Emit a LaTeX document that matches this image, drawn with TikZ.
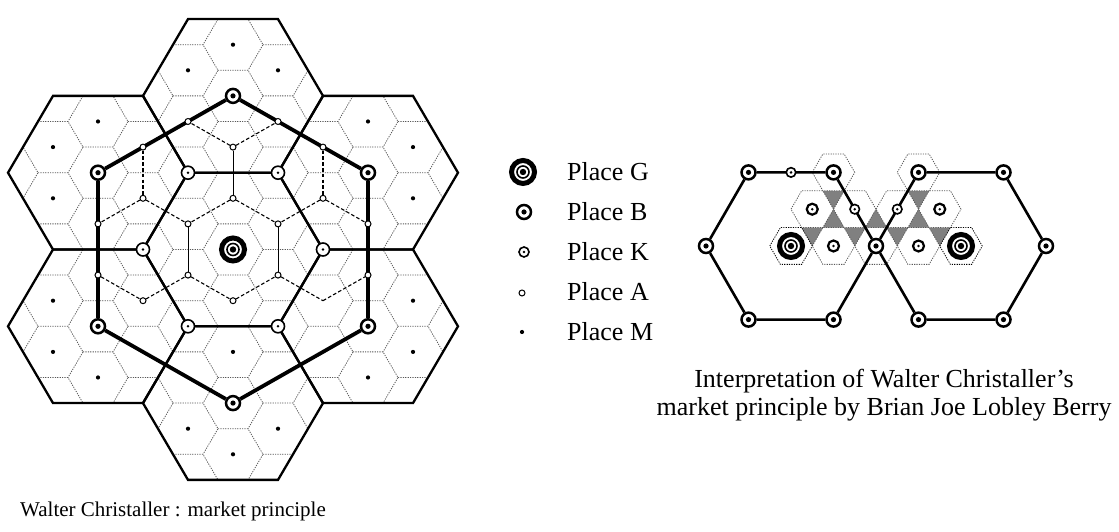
\documentclass[tikz,border=0pt]{standalone}
\usepackage{fontspec}
\setmainfont{Liberation Serif}
\usetikzlibrary{backgrounds}

\begin{document}
\begin{tikzpicture}[x = 1pt, y = 1pt,
        placeG/.style = {circle, draw, fill = white, line width = 5pt, minimum size = 23pt, inner sep = 0pt,
            path picture = {\draw [black, line width = 1.6pt] (path picture bounding box.center) circle (6pt);
                \fill [black] (path picture bounding box.center) circle (3.2pt);}},
        placeB/.style = {circle, draw, fill = white, line width = 2.5pt, minimum size = 14pt, inner sep = 0pt,
            path picture = {\fill [black] (path picture bounding box.center) circle (2.6pt);}},
        placeK/.style = {circle, draw, fill = white, line width = 1.6pt, minimum size = 9.5pt, inner sep = 0pt,
            path picture = {\fill [black] (path picture bounding box.center) circle (1.4pt);}},
        placeA/.style = {circle, draw, fill = white, line width = 1pt, minimum size = 6pt, inner sep = 0pt},
        placeM/.style = {circle, fill, minimum size = 4.2pt, inner sep = 0pt},
        hexline/.style = {line width = 2.3pt},
        trunk/.style = {line width = 3.8pt},
        kline/.style = {line width = 1.1pt, dash pattern = on 3.6pt off 2.2pt},
        aline/.style = {line width = 0.7pt},
        fine/.style = {black!65, line width = 0.8pt, dash pattern = on 1.2pt off 1.2pt},
        grayzone/.style = {fill = black!50},
        keytext/.style = {anchor = west, inner sep = 0pt, font = \fontsize{26pt}{30pt}\selectfont},
        captext/.style = {inner sep = 0pt, font = \fontsize{26pt}{30pt}\selectfont}]
    \useasboundingbox (0, 0) rectangle (1119, 532);

    \begin{scope}[shift = {(233, 282.5)}, x = {(45pt, 0pt)}, y = {(0pt, -25.6pt)}]
        \node [placeG] (G) at (0, 0) {};
        \foreach \i/\j [count = \n] in {0/-6, 3/-3, 3/3, 0/6, -3/3, -3/-3}
            \node [placeB] (B\n) at (\i, \j) {};
        \foreach \i/\j [count = \n] in {1/-3, 2/0, 1/3, -1/3, -2/0, -1/-3}
            \node [placeK, minimum size = 13pt] (K\n) at (\i, \j) {};
        \foreach \i/\j [count = \n] in {0/-4, -1/-5, 1/-5, -2/-4, 2/-4, -2/-2, 2/-2, 0/-2, -1/-1, 1/-1,
                -3/-1, 3/-1, -3/1, 3/1, -1/1, 1/1, 0/2, -2/2}
            \node [placeA] (A\n) at (\i, \j) {};
        \coordinate (A19) at (2, 2);
        \foreach \i/\j [count = \n] in {0/-8, -1/-7, 1/-7, -3/-5, 3/-5, -4/-4, -4/-2, 4/-4, 4/-2, -4/2,
                -4/4, 4/2, 4/4, -3/5, 3/5, 0/4, -1/7, 1/7, 0/8}
            \node [placeM] (M\n) at (\i, \j) {};

        \begin{scope}[on background layer]
            \begin{scope}
                \clip (-1, -9) -- (1, -9) -- (2, -6) -- (4, -6) -- (5, -3) -- (4, 0) -- (5, 3) -- (4, 6) -- (2, 6)
                    -- (1, 9) -- (-1, 9) -- (-2, 6) -- (-4, 6) -- (-5, 3) -- (-4, 0) -- (-5, -3) -- (-4, -6) -- (-2, -6) -- cycle;
                \foreach \i in {-6, -4, ..., 6}
                    \foreach \j in {-10, -8, ..., 10}
                        \draw [fine] (\i-1/3, \j-1) -- ++(2/3, 0) -- ++(1/3, 1) -- ++(-1/3, 1);
                \foreach \i in {-5, -3, ..., 5}
                    \foreach \j in {-9, -7, ..., 9}
                        \draw [fine] (\i-1/3, \j-1) -- ++(2/3, 0) -- ++(1/3, 1) -- ++(-1/3, 1);
            \end{scope}
            \foreach \i/\j in {0/-6, 3/-3, 3/3, 0/6, -3/3, -3/-3}
                \draw [hexline] (\i+2, \j) -- (\i+1, \j+3) -- (\i-1, \j+3) -- (\i-2, \j) -- (\i-1, \j-3) -- (\i+1, \j-3) -- cycle;
            \draw [hexline] (K1) -- (K2) -- (K3) -- (K4) -- (K5) -- (K6) -- (K1);
            \foreach \p/\q in {1/2, 1/3, 4/6, 5/7, 6/11, 6/9, 7/12, 7/10, 8/9, 8/10, 13/18, 18/15, 15/17, 17/16, 16/19, 19/14}
                \draw [kline] (A\p) -- (A\q);
            \foreach \p/\q in {1/8, 9/15, 10/16}
                \draw [aline] (A\p) -- (A\q);
            \draw [trunk] (B1) -- (B2) -- (B3) -- (B4) -- (B5) -- (B6) -- (B1);
        \end{scope}
    \end{scope}

    \begin{scope}[shift = {(791, 286)}, x = {(42.5pt, 0pt)}, y = {(21.25pt, 36.8pt)}]
        \node [placeG] (g1) at (0, 0) {};
        \node [placeG] (g2) at (4, 0) {};
        \foreach \i/\j [count = \n] in {2/0, 0/2, -2/2, -2/0, 0/-2, 2/-2, 2/2, 4/2, 6/0, 6/-2, 4/-2}
            \node [placeB] (b\n) at (\i, \j) {};
        \foreach \i/\j [count = \n] in {-1/2, 1/1, 2/1}
            \node [placeK] (k\n) at (\i, \j) {};
        \foreach \i/\j [count = \n from 4] in {0/1, 1/0, 3/0, 3/1}
            \node [placeK, minimum size = 11pt, line width = 2.2pt] (k\n) at (\i, \j) {};

        \begin{scope}[on background layer]
            \foreach \i/\j in {0/1, 0/0, 1/0, 2/0, 2/1, 3/0}
                \fill [grayzone] (\i+0.5, \j) -- (\i, \j+0.5) -- (\i+0.5, \j+0.5) -- cycle;
            \foreach \i/\j in {0/0, 1/0, 2/0}
                \fill [grayzone] (\i+0.5, \j+0.5) -- (\i+1, \j+0.5) -- (\i+0.5, \j+1) -- cycle;
            \foreach \i/\j in {1/0, 0/1, 0/2, 1/1, 2/0, 2/1, 2/2, 3/0, 3/1}
                \draw [fine] (\i+0.5, \j) -- ++(-0.5, 0.5) -- ++(-0.5, 0) -- ++(0, -0.5) -- ++(0.5, -0.5) -- ++(0.5, 0) -- cycle;
            \foreach \i in {0, 4}
                \draw [fine, black] (\i+0.5, 0) -- ++(-0.5, 0.5) -- ++(-0.5, 0) -- ++(0, -0.5) -- ++(0.5, -0.5) -- ++(0.5, 0) -- cycle;
            \draw [hexline, line width = 2.6pt] (b1) -- (b2) -- (b3) -- (b4) -- (b5) -- (b6) -- (b1);
            \draw [hexline, line width = 2.6pt] (b1) -- (b7) -- (b8) -- (b9) -- (b10) -- (b11) -- (b1);
        \end{scope}
    \end{scope}

    \node [placeG] (keyG) at (523, 360) {};
    \node [placeB] (keyB) at (524, 320) {};
    \node [placeK, minimum size = 10pt] (keyK) at (524, 280) {};
    \node [placeA] (keyA) at (522, 239) {};
    \node [placeM] (keyM) at (522, 200) {};
    \node [keytext] (textG) at (567, 360) {Place G};
    \node [keytext] (textB) at (567, 320) {Place B};
    \node [keytext] (textK) at (567, 280) {Place K};
    \node [keytext] (textA) at (567, 240) {Place A};
    \node [keytext] (textM) at (567, 200) {Place M};

    \node [captext] (title1) at (884, 151) {Interpretation of Walter Christaller's};
    \node [captext] (title2) at (884, 123) {market principle by Brian Joe Lobley Berry};
    \node [captext, anchor = west, font = \fontsize{21pt}{25pt}\selectfont] (title3) at (20, 21) {Walter Christaller : market principle};
\end{tikzpicture}
\end{document}
